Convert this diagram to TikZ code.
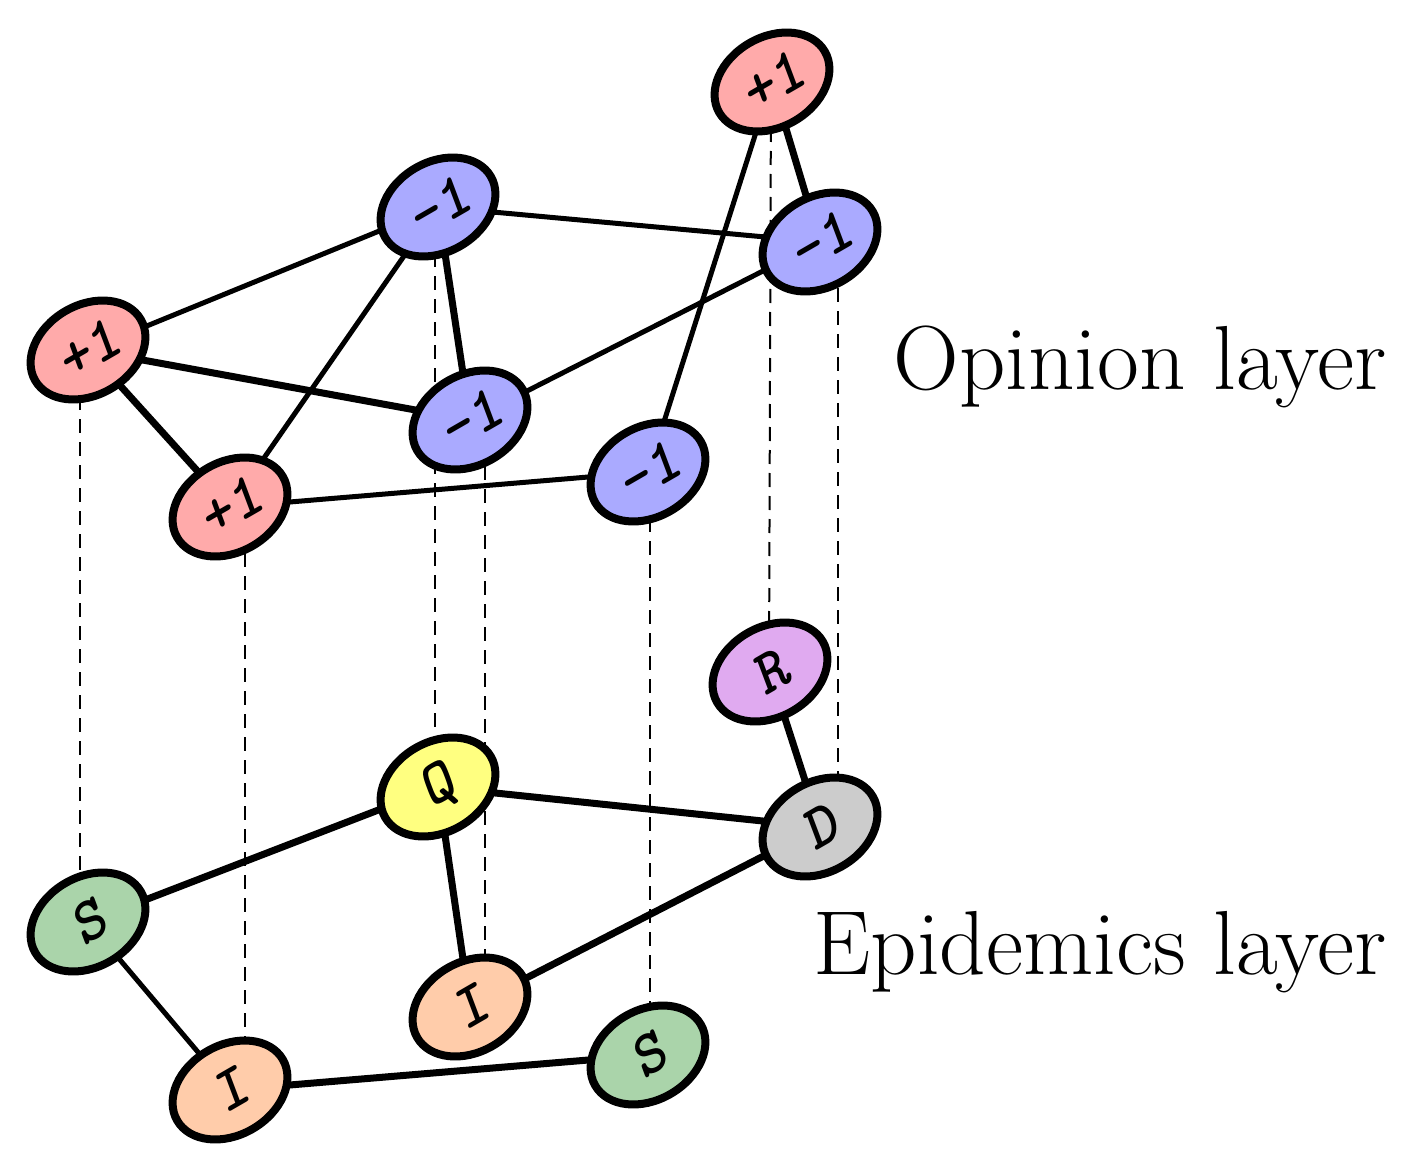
\documentclass[tikz,border=0pt]{standalone}
\usetikzlibrary{shapes.geometric}
\begin{document}
\begin{tikzpicture}[x=1pt,y=-1pt,
 nd/.style={ellipse,draw=black,line width=8pt,minimum width=122pt,minimum height=90pt,rotate=30,inner sep=0pt,font=\fontsize{62}{62}\selectfont\ttfamily\slshape\bfseries},
 th/.style={line width=7pt},
 tn/.style={line width=5pt},
 ds/.style={line width=2pt,dash pattern=on 14pt off 9pt}]
\useasboundingbox (0,0) rectangle (1419,1161);
\definecolor{cr}{HTML}{FFAAAA}\definecolor{cb}{HTML}{AAAAFF}
\definecolor{cg}{HTML}{AAD4AA}\definecolor{co}{HTML}{FFCCAA}
\definecolor{cy}{HTML}{FFFF80}\definecolor{cp}{HTML}{E0AAF0}
\definecolor{cgr}{HTML}{CCCCCC}
\coordinate (A) at (88,350); \coordinate (B) at (438,207); \coordinate (C) at (230,507);
\coordinate (D) at (470,420); \coordinate (E) at (648,472); \coordinate (F) at (772,82);
\coordinate (G) at (820,242);
\coordinate (S1) at (88,922); \coordinate (Q) at (438,787); \coordinate (I1) at (230,1090);
\coordinate (I2) at (470,1007); \coordinate (S2) at (648,1055); \coordinate (R) at (770,672);
\coordinate (Dn) at (820,827);
\draw[ds] ([xshift=-8pt]A) -- ([xshift=-8pt]S1);
\draw[ds] ([xshift=15pt]C) -- ([xshift=15pt]I1);
\draw[ds] ([xshift=-3pt]B) -- ([xshift=-3pt]Q);
\draw[ds] ([xshift=15pt]D) -- ([xshift=15pt]I2);
\draw[ds] ([xshift=2pt]E) -- ([xshift=2pt]S2);
\draw[ds] ([xshift=-1pt]F) -- ([xshift=-1pt]R);
\draw[ds] ([xshift=18pt]G) -- ([xshift=18pt]Dn);
\draw[tn] (A)--(B); \draw[th] (A)--(D); \draw[th] (A)--(C); \draw[tn] (B)--(G);
\draw[th] (B)--(D); \draw[tn] (B)--(C); \draw[tn] (D)--(G); \draw[tn] (C)--(E);
\draw[tn] (E)--(F); \draw[th] (F)--(G);
\draw[th] (S1)--(Q); \draw[tn] (S1)--(I1); \draw[th] (Q)--(Dn); \draw[th] (Q)--(I2);
\draw[th] (I2)--(Dn); \draw[th] (I1)--(S2); \draw[th] (R)--(Dn);
\foreach \n/\c/\t in {A/cr/+1,B/cb/-1,C/cr/+1,D/cb/-1,E/cb/-1,F/cr/+1,G/cb/-1,S1/cg/S,Q/cy/Q,I1/co/I,I2/co/I,S2/cg/S,R/cp/R,Dn/cgr/D}{
 \node[nd,fill=\c] (n\n) at (\n) {\t};
}
\node[anchor=east,font=\fontsize{91}{93}\selectfont] (op) at (1390,367) {Opinion layer};
\node[anchor=east,font=\fontsize{91}{93}\selectfont] (ep) at (1390,952) {Epidemics layer};
\end{tikzpicture}
\end{document}
